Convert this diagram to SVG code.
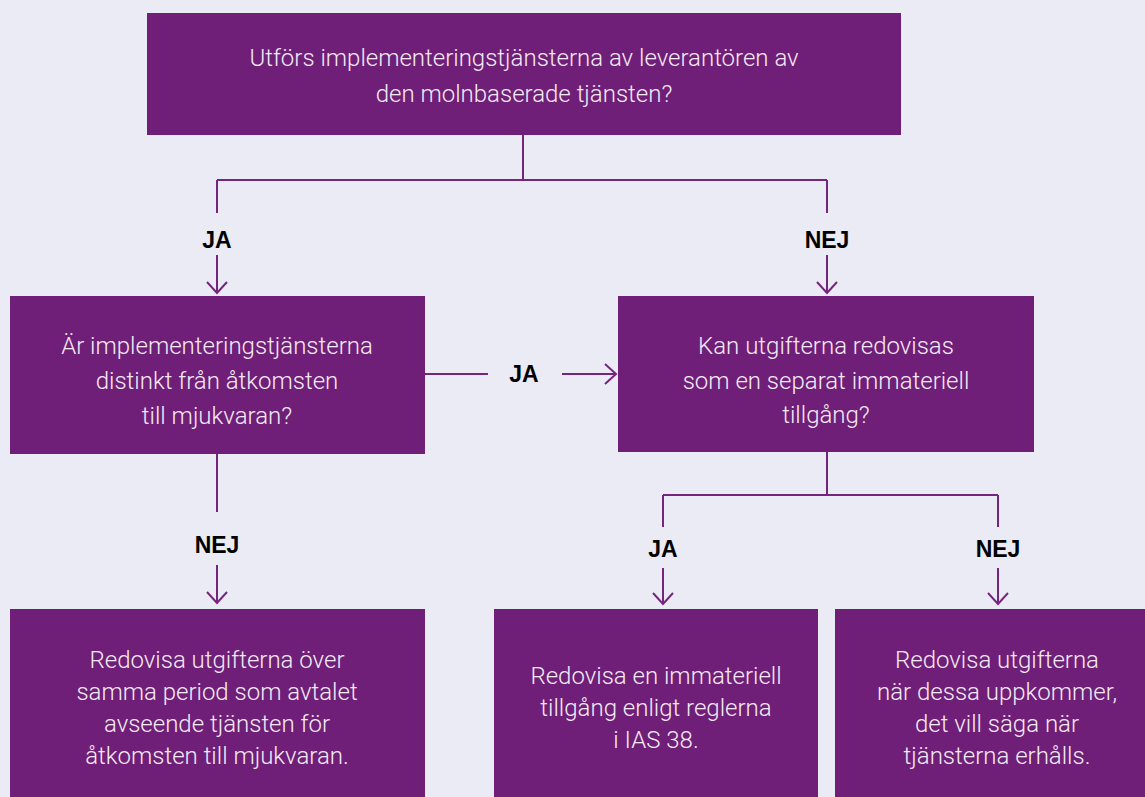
<svg xmlns="http://www.w3.org/2000/svg" width="1145" height="797" viewBox="0 0 1145 797">
<defs>
<style>
.box{fill:#6f1f77}
.t{font-family:Roboto,"Liberation Sans",Arial,sans-serif;font-weight:300;font-size:24px;fill:#f4eaf4;text-anchor:middle}
.lbl{font-family:"Liberation Sans",Arial,sans-serif;font-weight:bold;font-size:23px;fill:#000;text-anchor:middle}
.c{fill:none;stroke:#76257f;stroke-width:2}
</style>
<marker id="ah" viewBox="0 0 24 24" refX="12" refY="12" markerWidth="24" markerHeight="24" markerUnits="userSpaceOnUse" orient="auto">
<path d="M1,2 L12,12 L1,22" fill="none" stroke="#76257f" stroke-width="2"/>
</marker>
</defs>
<rect width="1145" height="797" fill="#ebebf5"/>
<g id="connectors">
<path class="c" d="M523,135 V180 M217,180 H827 M217,180 V213 M827,180 V213"/>
<path class="c" d="M217,255 V293" marker-end="url(#ah)"/>
<path class="c" d="M827,255 V293" marker-end="url(#ah)"/>
<path class="c" d="M425,374 H488"/>
<path class="c" d="M562,374 H616" marker-end="url(#ah)"/>
<path class="c" d="M217,454 V512"/>
<path class="c" d="M217,565 V603" marker-end="url(#ah)"/>
<path class="c" d="M827,452 V495 M663,495 H998 M663,495 V527 M998,495 V527"/>
<path class="c" d="M663,568 V604" marker-end="url(#ah)"/>
<path class="c" d="M998,568 V604" marker-end="url(#ah)"/>
<text class="lbl" x="217" y="248">JA</text>
<text class="lbl" x="827" y="248">NEJ</text>
<text class="lbl" x="524" y="382">JA</text>
<text class="lbl" x="217" y="553">NEJ</text>
<text class="lbl" x="663" y="557">JA</text>
<text class="lbl" x="998" y="557">NEJ</text>
</g>
<g id="q1">
<rect class="box" x="147" y="13" width="754" height="122"/>
<text class="t" x="524" y="66">Utförs implementeringstjänsterna av leverantören av</text>
<text class="t" x="524" y="102">den molnbaserade tjänsten?</text>
</g>
<g id="q2">
<rect class="box" x="10" y="296" width="415" height="158"/>
<text class="t" x="217" y="354">Är implementeringstjänsterna</text>
<text class="t" x="217" y="389">distinkt från åtkomsten</text>
<text class="t" x="217" y="424">till mjukvaran?</text>
</g>
<g id="q3">
<rect class="box" x="618" y="296" width="416" height="156"/>
<text class="t" x="826" y="354">Kan utgifterna redovisas</text>
<text class="t" x="826" y="389">som en separat immateriell</text>
<text class="t" x="826" y="423">tillgång?</text>
</g>
<g id="r1">
<rect class="box" x="10" y="609" width="415" height="188"/>
<text class="t" x="217" y="668">Redovisa utgifterna över</text>
<text class="t" x="217" y="700">samma period som avtalet</text>
<text class="t" x="217" y="732">avseende tjänsten för</text>
<text class="t" x="217" y="764">åtkomsten till mjukvaran.</text>
</g>
<g id="r2">
<rect class="box" x="494" y="609" width="324" height="188"/>
<text class="t" x="656" y="684">Redovisa en immateriell</text>
<text class="t" x="656" y="716">tillgång enligt reglerna</text>
<text class="t" x="656" y="748">i IAS 38.</text>
</g>
<g id="r3">
<rect class="box" x="835" y="609" width="310" height="188"/>
<text class="t" x="997" y="668">Redovisa utgifterna</text>
<text class="t" x="997" y="700">när dessa uppkommer,</text>
<text class="t" x="997" y="732">det vill säga när</text>
<text class="t" x="997" y="764">tjänsterna erhålls.</text>
</g>
</svg>
